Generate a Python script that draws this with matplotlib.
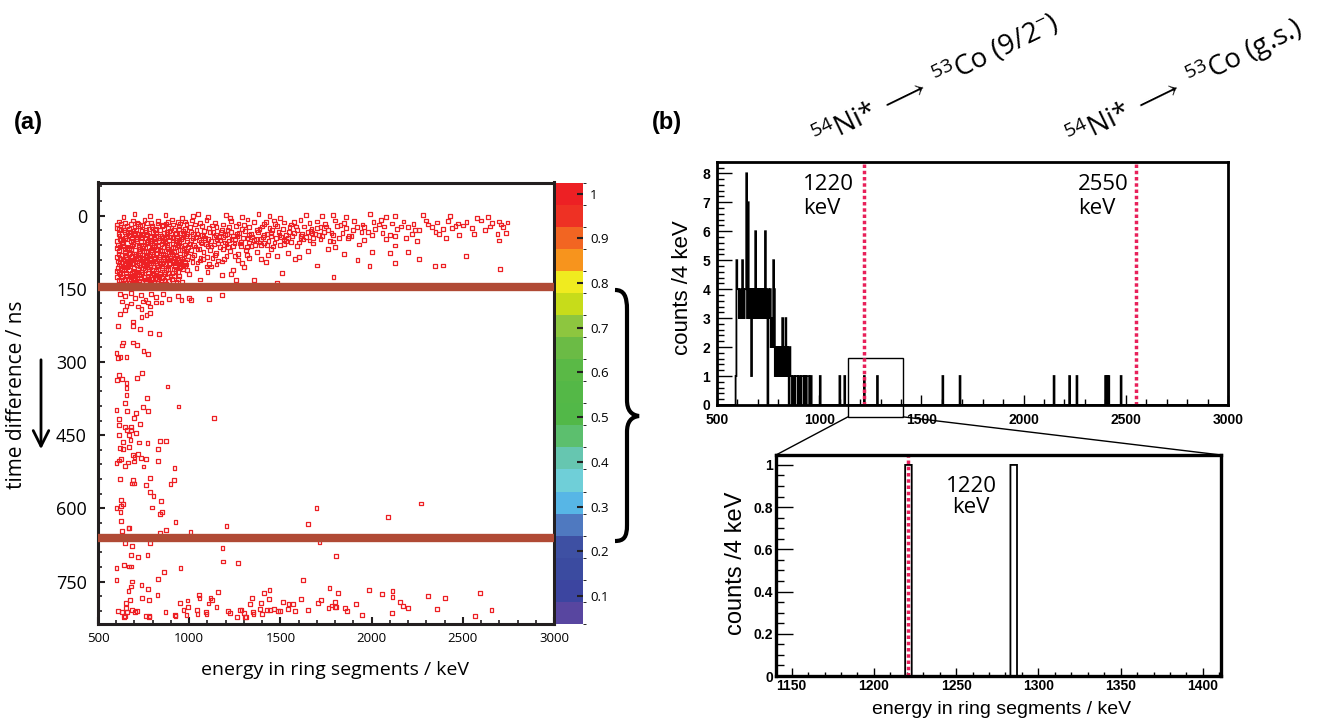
import numpy as np
import matplotlib.pyplot as plt
from matplotlib.colors import ListedColormap, BoundaryNorm
from matplotlib.cm import ScalarMappable
from matplotlib.patches import Rectangle, ConnectionPatch, PathPatch
from matplotlib.path import Path

plt.rcParams['font.family'] = ['Open Sans', 'DejaVu Sans']
plt.rcParams['mathtext.fontset'] = 'custom'
plt.rcParams['mathtext.rm'] = 'Open Sans'
plt.rcParams['mathtext.it'] = 'Open Sans:italic'

W, H = 1317, 722

# ---- panel (a): energy (keV) vs time difference (ns) ----
cloud = [
    (640, 2), (700, -3), (785, 1), (870, -2), (960, 4), (1020, 0), (1050, -4), (1105, 3), (1200, -1), (1225, 5),
    (1290, 2), (1380, -3), (1440, 0), (1500, 4), (1640, -2), (1730, 1), (1790, -1), (1860, 3), (1990, -4), (2080, 2),
    (2130, 0), (2280, -1), (2430, 1), (2580, 4), (2640, 3),
    (615, 12), (650, 15), (690, 10), (720, 17), (755, 9), (790, 14), (830, 11), (875, 16), (905, 8), (940, 13),
    (985, 17), (1015, 10), (1060, 15), (1095, 9), (1140, 14), (1185, 18), (1230, 11), (1270, 16), (1320, 8), (1355, 13),
    (1410, 17), (1465, 10), (1520, 14), (1560, 18), (1610, 9), (1660, 15), (1700, 12), (1745, 17), (1800, 10), (1850, 15),
    (1905, 11), (1950, 18), (2010, 13), (2050, 9), (2110, 16), (2175, 12), (2230, 17), (2300, 10), (2360, 14), (2420, 11),
    (2475, 16), (2520, 13), (2600, 10), (2660, 15), (2700, 12), (2745, 14),
    (605, 25), (640, 22), (668, 28), (700, 24), (730, 21), (762, 29), (795, 23), (820, 27), (850, 21), (885, 26),
    (915, 30), (945, 22), (975, 27), (1005, 24), (1040, 29), (1070, 21), (1110, 26), (1150, 23), (1180, 29), (1220, 24),
    (1255, 21), (1290, 27), (1330, 23), (1370, 29), (1400, 22), (1440, 26), (1480, 21), (1515, 28), (1550, 24), (1590, 30),
    (1630, 22), (1670, 27), (1720, 23), (1760, 29), (1810, 21), (1860, 26), (1900, 30), (1960, 24), (2020, 27), (2070, 22),
    (2140, 28), (2200, 24), (2260, 30), (2330, 23), (2390, 27), (2460, 21), (2550, 26), (2620, 29), (2720, 23),
    (612, 37), (645, 33), (672, 40), (705, 35), (738, 32), (768, 39), (800, 34), (828, 41), (860, 36), (892, 32),
    (920, 38), (952, 35), (983, 41), (1012, 33), (1045, 37), (1078, 42), (1112, 34), (1145, 39), (1175, 33), (1208, 37),
    (1240, 41), (1275, 35), (1305, 32), (1340, 38), (1375, 34), (1410, 40), (1450, 36), (1490, 33), (1530, 39), (1575, 35),
    (1615, 41), (1650, 34), (1690, 38), (1740, 33), (1790, 40), (1840, 36), (1890, 42), (1945, 34), (2000, 39), (2060, 35),
    (2130, 41), (2220, 37), (2350, 33), (2480, 40), (2690, 38),
    (620, 48), (650, 45), (680, 52), (708, 47), (740, 44), (772, 51), (805, 46), (835, 53), (865, 48), (898, 44),
    (928, 50), (958, 47), (990, 53), (1020, 45), (1052, 50), (1085, 46), (1118, 52), (1150, 48), (1185, 44), (1218, 51),
    (1250, 47), (1285, 53), (1320, 45), (1355, 50), (1395, 47), (1435, 52), (1475, 45), (1520, 49), (1560, 54), (1610, 46),
    (1660, 51), (1720, 47), (1790, 53), (1870, 46), (1960, 50), (2080, 48), (2250, 52), (2410, 45),
    (608, 60), (638, 57), (665, 63), (695, 58), (725, 65), (755, 59), (785, 56), (815, 62), (848, 58), (878, 64),
    (908, 57), (940, 61), (972, 66), (1002, 58), (1035, 63), (1068, 57), (1100, 62), (1135, 59), (1170, 65), (1205, 58),
    (1240, 62), (1278, 57), (1315, 64), (1360, 60), (1410, 56), (1460, 63), (1520, 58), (1590, 62), (1680, 57), (1800, 64),
    (1930, 59), (2130, 61),
    (615, 72), (645, 69), (675, 76), (702, 71), (732, 68), (762, 75), (792, 70), (822, 77), (852, 72), (885, 68),
    (915, 74), (948, 70), (980, 77), (1012, 71), (1045, 68), (1078, 75), (1112, 70), (1148, 76), (1185, 69), (1225, 73),
    (1268, 78), (1310, 70), (1370, 74), (1450, 69), (1540, 76), (1650, 72), (1760, 68), (2000, 75),
    (605, 85), (632, 81), (660, 88), (688, 83), (718, 80), (748, 87), (778, 82), (808, 89), (838, 84), (868, 80),
    (898, 86), (930, 82), (962, 88), (995, 83), (1028, 80), (1062, 87), (1098, 84), (1140, 81), (1190, 88), (1250, 83),
    (1330, 86), (1430, 80), (1600, 85), (2260, 89),
    (618, 96), (648, 93), (678, 100), (706, 95), (735, 92), (765, 99), (795, 94), (825, 101), (855, 96), (885, 92),
    (915, 98), (948, 94), (982, 100), (1018, 95), (1060, 92), (1110, 99), (1180, 94), (1290, 97), (2390, 102),
    (610, 108), (640, 105), (668, 112), (698, 107), (728, 104), (758, 111), (788, 106), (818, 113), (850, 108), (882, 104),
    (915, 110), (950, 106), (990, 112), (1040, 107), (1120, 104), (1240, 111),
    (622, 120), (652, 117), (682, 124), (712, 119), (742, 116), (772, 123), (802, 118), (835, 125), (868, 120), (905, 117),
    (945, 123), (1000, 119), (1180, 121),
    (615, 132), (645, 129), (675, 137), (705, 131), (735, 128), (765, 135), (798, 130), (830, 138), (865, 132), (905, 129),
    (960, 136), (1060, 131),
    (625, 30), (655, 41), (690, 31), (715, 44), (748, 37), (780, 27), (810, 48), (842, 30), (872, 43), (903, 25),
    (935, 45), (965, 32), (630, 55), (660, 68), (693, 54), (722, 61), (750, 72), (778, 64), (812, 52), (840, 70),
    (870, 55), (900, 73), (932, 53), (962, 70), (612, 79), (640, 90), (672, 78), (700, 89), (730, 76), (760, 84),
    (790, 97), (818, 79), (846, 92), (876, 86), (905, 79), (938, 91), (970, 79), (625, 103), (655, 99), (688, 117),
    (712, 101), (745, 108), (775, 117), (802, 98), (830, 110), (860, 116), (892, 99), (925, 113), (956, 103), (630, 125),
    (662, 131), (690, 127), (720, 139), (750, 126), (782, 140), (812, 127), (845, 134), (878, 126), (610, 142), (655, 145),
    (700, 143), (740, 141), (775, 145), (820, 142), (860, 144), (905, 141),
    (1030, 18), (1080, 31), (1125, 20), (1165, 44), (1210, 29), (1260, 38), (1300, 19), (1345, 44), (1385, 28), (1425, 38),
    (1470, 17), (1505, 43), (1545, 33), (1585, 22), (1625, 49), (1665, 31), (1710, 40), (1750, 22), (1020, 38), (1065, 54),
    (1130, 33), (1195, 55), (1230, 33), (1330, 55), (1395, 60), (1420, 13), (1455, 30), (1500, 60), (1540, 45), (1575, 13),
    (1620, 37), (1680, 45), (1700, 26), (1780, 35), (1830, 19), (1875, 42), (1920, 24), (1980, 33), (2040, 18), (2100, 40),
    (2160, 22), (2190, 45), (2240, 30), (2310, 18), (2370, 38), (2440, 26), (2500, 20), (2560, 38), (2650, 22), (2710, 18),
    (2346, 103), (2703, 109), (1791, 125), (2517, 83), (1989, 103), (1482, 137), (1357, 132), (1257, 132), (2101, 76),
    (1923, 91), (2736, 35), (2698, 51), (1100, 115), (1150, 100), (1230, 120), (1300, 105), (1420, 95), (1510, 118),
    (1580, 88), (1700, 102), (1850, 78), (2130, 97), (2200, 74),
    (620, 160), (650, 165), (680, 158), (705, 168), (735, 162), (760, 172), (790, 160), (820, 167), (855, 161), (890, 170),
    (940, 164), (1000, 168), (1180, 163), (1109, 171), (1011, 173), (958, 173),
]

core = [
    (603, 18), (628, 16), (657, 21), (683, 17), (712, 14), (741, 19), (769, 15), (797, 20), (826, 16), (856, 19),
    (884, 13), (912, 18), (948, 16), (977, 12),
    (618, 42), (634, 50), (662, 36), (686, 46), (697, 40), (722, 38), (736, 53), (758, 45), (783, 41), (795, 52),
    (818, 36), (837, 45), (857, 52), (877, 38), (890, 50), (911, 44), (926, 36), (944, 52), (968, 44), (990, 38),
    (603, 66), (622, 63), (648, 75), (670, 66), (683, 70), (710, 78), (728, 72), (745, 62), (770, 80), (797, 75),
    (806, 64), (832, 62), (858, 78), (863, 64), (890, 74), (920, 65), (928, 80), (955, 62), (985, 72), (993, 64),
    (608, 94), (625, 88), (652, 84), (665, 95), (692, 92), (708, 86), (724, 97), (741, 89), (770, 91), (784, 88),
    (813, 93), (833, 88), (861, 85), (870, 99), (893, 90), (920, 87), (952, 84), (975, 95),
    (603, 113), (617, 115), (633, 110), (660, 106), (675, 120), (695, 113), (718, 110), (735, 119), (752, 101), (768, 106),
    (795, 112), (808, 121), (826, 104), (842, 120), (872, 112), (888, 118), (920, 103), (938, 115), (968, 110),
    (602, 125), (640, 137), (656, 123), (672, 129), (700, 122), (708, 136), (728, 133), (756, 131), (771, 126), (790, 136),
    (823, 130), (836, 124), (858, 139), (890, 134), (915, 124), (940, 130),
    (620, 143), (636, 140), (668, 143), (684, 140), (715, 145), (757, 142), (797, 144), (838, 141), (880, 143),
    (1008, 50), (1025, 60), (1038, 44), (1056, 68), (1072, 40), (1090, 58), (1105, 47), (1122, 63), (1138, 43), (1158, 57),
    (1172, 50), (1196, 40), (1212, 64), (1232, 48), (1248, 57), (1265, 42), (1282, 62), (1296, 46), (1326, 40), (1342, 62),
    (1365, 47), (1385, 55), (1406, 44), (1428, 60), (1448, 42), (1468, 55), (1495, 40), (1532, 52), (1565, 41), (1600, 55),
    (1642, 44), (1675, 35), (1730, 42), (1770, 52), (1820, 45),
    (1015, 84), (1045, 96), (1075, 88), (1095, 104), (1128, 86), (1160, 92), (1205, 82), (1268, 91), (1315, 80), (1395, 88),
    (1480, 82),
    (614, 27), (642, 30), (676, 34), (707, 29), (733, 40), (763, 34), (790, 43), (814, 29), (848, 42), (880, 33),
    (908, 45), (942, 28), (970, 38),
    (606, 52), (636, 62), (658, 49), (688, 61), (716, 52), (742, 67), (767, 54), (798, 60), (824, 68), (852, 46),
    (880, 60), (912, 66), (946, 56), (976, 60),
    (618, 86), (646, 80), (676, 92), (704, 82), (732, 86), (756, 95), (784, 78), (812, 86), (840, 98), (866, 92),
    (896, 82), (926, 96), (958, 92), (988, 90),
    (614, 100), (644, 112), (666, 102), (694, 98), (722, 116), (748, 95), (780, 110), (806, 104), (838, 96), (854, 104),
    (884, 110), (912, 93), (944, 100), (978, 104),
    (626, 132), (650, 138), (678, 126), (698, 132), (726, 122), (744, 136), (778, 130), (806, 138), (818, 122), (852, 128),
    (872, 140), (898, 124), (930, 136),
]

tail = [
    (632, 176), (656, 185), (683, 180), (720, 186), (747, 176), (775, 178), (820, 178), (848, 178), (784, 186), (650, 193),
    (738, 192), (784, 200), (619, 201), (766, 203), (738, 208), (692, 217), (610, 226), (692, 226), (732, 233), (787, 241),
    (835, 243), (639, 260), (632, 266), (692, 260), (716, 265), (749, 277), (775, 283), (601, 282), (623, 289), (610, 292),
    (656, 289), (743, 322), (617, 327), (606, 337), (632, 335), (716, 333), (656, 343), (656, 354), (656, 367), (881, 350),
    (769, 374), (650, 384), (601, 398), (661, 401), (707, 405), (776, 401), (745, 393), (941, 391), (1135, 415), (698, 415),
    (617, 417), (615, 429), (732, 427), (650, 434), (683, 434), (681, 439), (661, 440), (617, 449), (710, 446), (670, 449),
    (678, 460), (639, 464), (723, 465), (771, 466), (842, 462), (875, 462), (668, 475), (621, 477), (639, 479), (831, 479),
    (692, 490), (721, 488), (700, 495), (734, 497), (762, 498), (628, 499), (613, 502), (601, 507), (665, 506), (698, 504),
    (749, 514), (650, 513), (831, 503), (919, 518), (621, 540), (694, 542), (687, 549), (698, 549), (787, 538), (765, 552),
    (915, 542), (897, 550), (787, 567), (804, 575), (624, 583), (846, 585), (639, 591), (628, 595), (601, 600), (798, 598),
    (623, 608), (853, 607), (842, 612), (628, 626), (925, 628), (667, 641), (672, 641), (632, 647), (875, 644), (1205, 636),
    (1650, 632), (1698, 599), (1007, 649), (841, 651), (2273, 590), (2091, 617),
]

late = [
    (646, 671), (688, 677), (787, 671), (1183, 681), (1714, 670), (1804, 697), (683, 696), (720, 700), (771, 695),
    (601, 722), (643, 716), (670, 719), (681, 719), (863, 731), (952, 722), (1187, 709), (1269, 712), (601, 746),
    (688, 750), (831, 745), (1626, 746), (683, 760), (738, 757), (773, 766), (667, 770), (826, 778), (743, 784),
    (677, 788), (780, 788), (1055, 778), (1057, 784), (1117, 784), (1126, 788), (1159, 772), (1344, 783), (1408, 773),
    (1440, 768), (1436, 785), (1769, 763), (1815, 773), (1984, 767), (2055, 776), (2115, 770), (2115, 781), (2308, 780),
    (2403, 784), (2595, 773), (654, 794), (949, 794), (991, 789), (1106, 795), (1150, 802), (1333, 796), (1392, 794),
    (1513, 792), (1544, 796), (1568, 796), (1612, 786), (1705, 794), (1723, 787), (1782, 799), (1798, 792), (1806, 802),
    (1855, 804), (1914, 796), (2155, 792), (2170, 800), (2199, 804), (2359, 806), (2657, 808), (610, 811), (632, 813),
    (652, 804), (659, 813), (688, 809), (702, 813), (716, 811), (646, 821), (762, 821), (782, 821), (870, 813), (921, 818),
    (969, 808), (995, 802), (985, 818), (1044, 809), (1046, 816), (1090, 813), (1095, 816), (1214, 810), (1223, 815),
    (1262, 822), (1279, 808), (1287, 809), (1302, 815), (1313, 822), (1348, 812), (1352, 816), (1390, 807), (1401, 816),
    (1425, 808), (1443, 809), (1465, 807), (1489, 811), (1500, 811), (1542, 807), (1579, 810), (1650, 808), (1764, 804),
    (1800, 802), (1864, 811), (1947, 818), (2111, 815), (2568, 820), (925, 820), (1306, 823), (778, 823), (643, 823),
]

gate_lines = [147, 660]

# colour scale of the 2D plot (bottom -> top)
band_colors = ['#5846a0', '#3c45a0', '#3b4ba0', '#3e50a3', '#4f79c0', '#57b6e6', '#6fcfd8', '#66c6b0',
               '#5cbf6e', '#52b848', '#54b847', '#5ab946', '#6bbb45', '#8dc63f', '#c7dc1a', '#f0eb1f',
               '#f7941d', '#f26522', '#ee3124', '#ed2024']
cb_min, cb_max = 0.0374, 1.0246
cb_ticks = [0.1, 0.2, 0.3, 0.4, 0.5, 0.6, 0.7, 0.8, 0.9, 1.0]
cb_labels = ['0.1', '0.2', '0.3', '0.4', '0.5', '0.6', '0.7', '0.8', '0.9', '1']

# ---- panel (b): spectrum, 4 keV bins ----
bin_lo, bin_w = 499, 4
dense_start = 591
dense_counts = [1, 5, 4, 4, 3, 4, 4, 3, 5, 4, 3, 4, 4, 8, 3, 7, 4, 3, 4, 1, 4, 3, 4, 3, 6, 3, 4, 3, 4, 3,
                4, 3, 4, 3, 4, 3, 6, 4, 3, 0, 4, 3, 4, 2, 3, 2, 5, 4, 1, 2, 1, 2, 1, 2, 1, 2, 1, 3, 1, 2,
                1, 3, 1, 2, 1, 0, 2, 1, 1, 0, 1, 1, 0, 1, 1, 1, 0, 1, 1, 0, 1, 1, 1, 0, 1, 1, 0, 1, 1, 1,
                0, 1, 1]
single_hits = [1003, 1099, 1124, 1221, 1285, 1605, 1690, 2150, 2225, 2261, 2401, 2409, 2417, 2475]
transitions = [1221, 2550]

edges = np.arange(bin_lo, 3004, bin_w)
counts = np.zeros(len(edges) - 1)
i0 = (dense_start - bin_lo) // bin_w
counts[i0:i0 + len(dense_counts)] = dense_counts
for e in single_hits:
    counts[(e - bin_lo) // bin_w] += 1


def fx(px):
    return px / W


def fy(py):
    return 1 - py / H


fig = plt.figure(figsize=(W / 100, H / 100), dpi=100)

# ================= (a) =================
ax = fig.add_axes([fx(98), fy(624), fx(554) - fx(98), fy(182.5) - fy(624)])
cax = fig.add_axes([fx(556), fy(624), fx(583) - fx(556), fy(182.5) - fy(624)])

cmap = ListedColormap(band_colors)
norm = BoundaryNorm(np.linspace(cb_min, cb_max, len(band_colors) + 1), cmap.N)
red = cmap(norm(1.0))

pts = cloud + core + tail + late
ax.scatter([p[0] for p in pts], [p[1] for p in pts], s=7.5, marker='s',
           facecolors='none', edgecolors=red, linewidths=0.9, zorder=2)
for g in gate_lines:
    ax.axhline(g, color='#b04a35', lw=6, zorder=3)

ax.set_xlim(500, 3000)
ax.set_ylim(837, -68)
ax.set_xticks([500, 1000, 1500, 2000, 2500, 3000])
ax.set_xticks(np.arange(600, 3000, 100), minor=True)
ax.set_yticks([0, 150, 300, 450, 600, 750])
ax.set_yticks(np.arange(-60, 840, 30), minor=True)
ax.tick_params(direction='in', length=5, width=1.5, color='#231f20')
ax.tick_params(which='minor', direction='in', length=3, width=1.2, color='#231f20')
ax.tick_params(axis='y', labelsize=13, pad=8)
ax.tick_params(axis='x', labelsize=9.5, pad=6)
for s in ax.spines.values():
    s.set_linewidth(2.2)
    s.set_color('#231f20')

cb = fig.colorbar(ScalarMappable(norm=norm, cmap=cmap), cax=cax, ticks=cb_ticks)
cb.set_ticklabels(cb_labels)
cb.outline.set_visible(False)
cax.tick_params(direction='in', length=4, width=1.5, labelsize=9.5, pad=5, color='#231f20')

fig.text(fx(17), fy(395), 'time difference / ns', rotation=90, fontsize=15, ha='center', va='center')
fig.text(fx(335), fy(670), 'energy in ring segments / keV', fontsize=14, ha='center', va='center')
fig.text(fx(28), fy(123), '(a)', fontsize=17, fontweight='bold', family='Liberation Sans',
         ha='center', va='center')
ax.annotate('', xy=(fx(41), fy(452)), xytext=(fx(41), fy(357)), xycoords='figure fraction',
            arrowprops=dict(arrowstyle='->', lw=2, mutation_scale=28, color='black'))

# curly brace next to the colour bar
bx = [(615, 290), (624, 290), (627, 296), (627, 310), (627, 400), (627, 410), (631, 415), (639, 416),
      (631, 417), (627, 422), (627, 432), (627, 525), (627, 537), (624, 541), (615, 541)]
codes = [Path.MOVETO, Path.CURVE4, Path.CURVE4, Path.CURVE4, Path.LINETO, Path.CURVE4, Path.CURVE4, Path.CURVE4,
         Path.CURVE4, Path.CURVE4, Path.CURVE4, Path.LINETO, Path.CURVE4, Path.CURVE4, Path.CURVE4]
brace = Path([(fx(x), fy(y)) for x, y in bx], codes)
fig.add_artist(PathPatch(brace, transform=fig.transFigure, fill=False, lw=3, color='black'))

# ================= (b) top =================
root_font = ['Liberation Sans Narrow', 'Liberation Sans']
at = fig.add_axes([fx(717), fy(405), fx(1228) - fx(717), fy(162) - fy(405)])
at.stairs(counts, edges, color='black', lw=1.3)
for t in transitions:
    at.axvline(t, color='#e8205a', lw=2.5, ls=(0, (1, 0.8)))
at.set_xlim(500, 3000)
at.set_ylim(0, 8.39)
at.set_xticks([500, 1000, 1500, 2000, 2500, 3000])
at.set_xticks(np.arange(600, 3000, 100), minor=True)
at.set_yticks(range(0, 9))
at.set_yticks(np.arange(0, 8.4, 0.2), minor=True)
at.tick_params(axis='y', which='major', direction='in', length=11, width=1)
at.tick_params(axis='y', which='minor', direction='in', length=5, width=1)
at.tick_params(axis='x', which='major', direction='in', length=7, width=1)
at.tick_params(axis='x', which='minor', direction='in', length=4, width=1)
at.tick_params(axis='x', labelsize=10, pad=6)
at.tick_params(axis='y', labelsize=10, pad=5)
for lab in at.get_xticklabels() + at.get_yticklabels():
    lab.set_family(root_font)
    lab.set_fontweight('bold')
for s in at.spines.values():
    s.set_linewidth(2)

at.text(921, 7.63, '1220', fontsize=16, ha='left', va='center')
at.text(921, 6.8, 'keV', fontsize=16, ha='left', va='center')
at.text(2266, 7.63, '2550', fontsize=16, ha='left', va='center')
at.text(2266, 6.8, 'keV', fontsize=16, ha='left', va='center')
fig.text(fx(683), fy(288), 'counts /4 keV', rotation=90, fontsize=16, family='Liberation Sans',
         ha='center', va='center')
fig.text(fx(667), fy(123), '(b)', fontsize=17, fontweight='bold', family='Liberation Sans',
         ha='center', va='center')

fig.text(fx(818), fy(148), r'$^{54}$Ni* $\longrightarrow$ $^{53}$Co (9/2$^{-}$)', rotation=26,
         rotation_mode='anchor', ha='left', va='baseline', fontsize=20)
fig.text(fx(1072), fy(148), r'$^{54}$Ni* $\longrightarrow$ $^{53}$Co (g.s.)', rotation=26,
         rotation_mode='anchor', ha='left', va='baseline', fontsize=20)

# ================= (b) zoom =================
ab = fig.add_axes([fx(776), fy(676), fx(1221) - fx(776), fy(455) - fy(676)])
ab.stairs(counts, edges, color='black', lw=1.3)
ab.axvline(transitions[0], color='#e8205a', lw=2.5, ls=(0, (1, 0.8)))
ab.set_xlim(1140.5, 1411)
ab.set_ylim(0, 1.047)
ab.set_xticks([1150, 1200, 1250, 1300, 1350, 1400])
ab.set_xticks(np.arange(1150, 1411, 10), minor=True)
ab.set_yticks([0, 0.2, 0.4, 0.6, 0.8, 1])
ab.set_yticklabels(['0', '0.2', '0.4', '0.6', '0.8', '1'])
ab.set_yticks(np.arange(0, 1.04, 0.05), minor=True)
ab.tick_params(axis='y', which='major', direction='in', length=12, width=1)
ab.tick_params(axis='y', which='minor', direction='in', length=6, width=1)
ab.tick_params(axis='x', which='major', direction='in', length=6, width=1)
ab.tick_params(axis='x', which='minor', direction='in', length=3, width=1)
ab.tick_params(labelsize=10, pad=2)
for lab in ab.get_xticklabels() + ab.get_yticklabels():
    lab.set_family(root_font)
    lab.set_fontweight('bold')
for s in ab.spines.values():
    s.set_linewidth(2.4)

ab.text(1259, 0.897, '1220', fontsize=16, ha='center', va='center')
ab.text(1259, 0.797, 'keV', fontsize=16, ha='center', va='center')
fig.text(fx(736), fy(563), 'counts /4 keV', rotation=90, fontsize=17, family='Liberation Sans',
         ha='center', va='center')
fig.text(fx(1002), fy(710), 'energy in ring segments / keV', fontsize=14, family='Liberation Sans',
         ha='center', va='center')

# zoom box and connecting lines
box_lo = -0.41
at.add_patch(Rectangle((1140.5, box_lo), 1411 - 1140.5, 1.62 - box_lo, fill=False, lw=1,
                       edgecolor='black', clip_on=False))
for xa, xb in [(1140.5, 0), (1411, 1)]:
    fig.add_artist(ConnectionPatch(xyA=(xa, box_lo), coordsA=at.transData,
                                   xyB=(xb, 1), coordsB=ab.transAxes, lw=1, color='black'))

fig.savefig('out.png', dpi=100)
